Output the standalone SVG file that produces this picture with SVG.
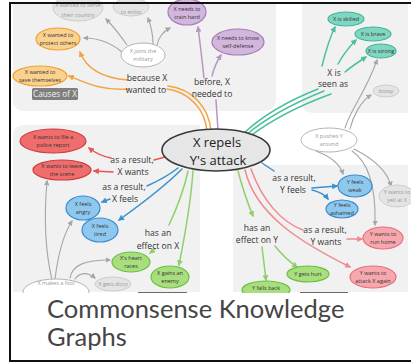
<svg xmlns="http://www.w3.org/2000/svg" width="411" height="362" viewBox="0 0 411 362">
  <defs>
    <style>
      .panel { fill: #f1f1f1; }
      .lbl { font-family: "Open Sans", "Liberation Sans", sans-serif; font-size: 8.6px; fill: #333; text-anchor: middle; }
      .nt { font-family: "Open Sans", "Liberation Sans", sans-serif; font-size: 5.5px; fill: #333; text-anchor: middle; }
      .nt.dim { fill: #9a9a9a; }
      .c { fill: none; stroke-width: 1.5; stroke-linecap: round; }
      .c.thin { stroke-width: 1.1; }
      .orange { stroke: #f2a444; }
      .purple { stroke: #b795c6; }
      .teal { stroke: #4cbf9f; }
      .gray { stroke: #a6a6a6; }
      .blue { stroke: #3a92cf; }
      .red { stroke: #e45555; }
      .pink { stroke: #ef8a8f; }
      .green { stroke: #8fd06a; }
      .n-orange { fill: #fbd18f; stroke: #f0a030; stroke-width: 1.2; }
      .n-purple { fill: #d3b6dd; stroke: #a47db5; stroke-width: 1.2; }
      .n-teal { fill: #80d7c1; stroke: #45b39a; stroke-width: 1.2; }
      .n-gray { fill: #e4e4e4; stroke: #cdcdcd; stroke-width: 1; }
      .n-white { fill: #ffffff; stroke: #b5b5b5; stroke-width: 1; }
      .n-blue { fill: #8fc8ef; stroke: #3c8ccc; stroke-width: 1.2; }
      .n-red { fill: #ef6d6d; stroke: #cc3d3d; stroke-width: 1.2; }
      .n-pink { fill: #f7a7ae; stroke: #e6707b; stroke-width: 1.2; }
      .n-green { fill: #a8de7e; stroke: #6cbf45; stroke-width: 1.2; }
      .title { font-family: Lato, "Open Sans", sans-serif; font-size: 25.5px; fill: #454545; }
    </style>
    <marker id="a-orange" viewBox="0 0 10 10" refX="8" refY="5" markerWidth="4" markerHeight="4" orient="auto"><path d="M0,0 L10,5 L0,10 z" fill="#f2a444"/></marker>
    <marker id="a-purple" viewBox="0 0 10 10" refX="8" refY="5" markerWidth="4" markerHeight="4" orient="auto"><path d="M0,0 L10,5 L0,10 z" fill="#b795c6"/></marker>
    <marker id="a-teal" viewBox="0 0 10 10" refX="8" refY="5" markerWidth="4" markerHeight="4" orient="auto"><path d="M0,0 L10,5 L0,10 z" fill="#4cbf9f"/></marker>
    <marker id="a-gray" viewBox="0 0 10 10" refX="8" refY="5" markerWidth="5" markerHeight="5" orient="auto"><path d="M0,0 L10,5 L0,10 z" fill="#a6a6a6"/></marker>
    <marker id="a-blue" viewBox="0 0 10 10" refX="8" refY="5" markerWidth="4" markerHeight="4" orient="auto"><path d="M0,0 L10,5 L0,10 z" fill="#3a92cf"/></marker>
    <marker id="a-red" viewBox="0 0 10 10" refX="8" refY="5" markerWidth="4" markerHeight="4" orient="auto"><path d="M0,0 L10,5 L0,10 z" fill="#e45555"/></marker>
    <marker id="a-pink" viewBox="0 0 10 10" refX="8" refY="5" markerWidth="4" markerHeight="4" orient="auto"><path d="M0,0 L10,5 L0,10 z" fill="#ef8a8f"/></marker>
    <marker id="a-green" viewBox="0 0 10 10" refX="8" refY="5" markerWidth="4" markerHeight="4" orient="auto"><path d="M0,0 L10,5 L0,10 z" fill="#8fd06a"/></marker>
  </defs>

  <!-- page -->
  <rect x="0" y="0" width="411" height="362" fill="#ffffff"/>

  <!-- background panels -->
  <g id="panels">
    <path class="panel" d="M13,4 H276 V98 Q276,111 263,111 H25 Q13,111 13,99 Z"/>
    <path class="panel" d="M302,4 H408 V113 H314 Q302,113 302,101 Z"/>
    <path class="panel" d="M25,125 H200 V292 H13 V137 Q13,125 25,125 Z"/>
    <path class="panel" d="M245,165 H408 V292 H233 V177 Q233,165 245,165 Z"/>
  </g>

  <!-- connectors -->
  <g id="connectors">
    <!-- causes: because X wanted to -->
    <path class="c orange" d="M207,131 C205,110 190,92 167,89"/>
    <path class="c orange" d="M211,131 C209,108 193,89 168,86"/>
    <path class="c orange" d="M128,80 C102,78 86,68 80,52" marker-end="url(#a-orange)"/>
    <path class="c orange" d="M128,89 C102,91 86,83 69,76" marker-end="url(#a-orange)"/>
    <!-- before, X needed to -->
    <path class="c purple" d="M218,130 L216,100"/>
    <path class="c purple" d="M204,78 C202,60 200,42 198,27" marker-end="url(#a-purple)"/>
    <path class="c purple" d="M212,76 C214,68 217,61 221,55" marker-end="url(#a-purple)"/>
    <!-- X joins the military -->
    <path class="c thin gray" d="M122,52 C110,42 96,38 84,38" marker-end="url(#a-gray)"/>
    <path class="c thin gray" d="M127,45 C120,35 113,26 106,19" marker-end="url(#a-gray)"/>
    <path class="c thin gray" d="M153,44 C153,35 151,26 148,18" marker-end="url(#a-gray)"/>
    <path class="c thin gray" d="M157,45 C159,36 164,31 170,28" marker-end="url(#a-gray)"/>
    <!-- X is seen as -->
    <path class="c teal" d="M243,134 C262,116 290,100 318,89"/>
    <path class="c teal" d="M246,135 C266,118 294,103 324,91"/>
    <path class="c teal" d="M249,137 C270,121 298,106 331,94"/>
    <path class="c teal" d="M322,66 C326,50 330,37 335,27" marker-end="url(#a-teal)"/>
    <path class="c teal" d="M338,64 C343,55 350,46 356,40" marker-end="url(#a-teal)"/>
    <path class="c teal" d="M345,72 C352,66 360,61 366,57" marker-end="url(#a-teal)"/>
    <!-- X pushes Y around -->
    <path class="c thin gray" d="M345,128 C350,110 366,92 377,60" marker-end="url(#a-gray)"/>
    <path class="c thin gray" d="M350,129 C353,116 361,101 371,95" marker-end="url(#a-gray)"/>
    <path class="c thin gray" d="M316,151 C332,157 340,164 343,174" marker-end="url(#a-gray)"/>
    <path class="c thin gray" d="M352,151 C370,163 376,190 375,225" marker-end="url(#a-gray)"/>
    <path class="c thin gray" d="M354,149 C372,158 387,170 391,186" marker-end="url(#a-gray)"/>
    <!-- as a result, Y feels -->
    <path class="c blue" d="M262,163 L274,171"/>
    <path class="c blue" d="M312,188 L337,186" marker-end="url(#a-blue)"/>
    <path class="c blue" d="M312,190 C320,192 325,195 328,199" marker-end="url(#a-blue)"/>
    <!-- as a result, Y wants -->
    <path class="c pink" d="M251,169 C262,200 281,222 303,230"/>
    <path class="c pink" d="M347,239 L362,239" marker-end="url(#a-pink)"/>
    <path class="c pink" d="M245,170 C256,215 300,242 350,267" marker-end="url(#a-pink)"/>
    <!-- has an effect on Y -->
    <path class="c green" d="M238,171 C243,190 248,204 253,216" marker-end="url(#a-green)"/>
    <path class="c green" d="M262,247 L266,280" marker-end="url(#a-green)"/>
    <path class="c green" d="M275,246 C282,255 290,262 297,267" marker-end="url(#a-green)"/>
    <!-- as a result, X wants -->
    <path class="c red" d="M165,157 L154,160"/>
    <path class="c red" d="M111,158 C101,156 94,152 89,148" marker-end="url(#a-red)"/>
    <path class="c red" d="M113,172 L94,171" marker-end="url(#a-red)"/>
    <!-- as a result, X feels -->
    <path class="c blue" d="M178,168 C168,176 158,181 147,186"/>
    <path class="c blue" d="M182,169 C165,186 140,205 119,220" marker-end="url(#a-blue)"/>
    <path class="c blue" d="M110,199 L102,202" marker-end="url(#a-blue)"/>
    <!-- has an effect on X -->
    <path class="c green" d="M188,171 C184,190 176,210 169,225"/>
    <path class="c green" d="M155,249 L150,253" marker-end="url(#a-green)"/>
    <path class="c green" d="M193,171 C191,200 185,235 179,265" marker-end="url(#a-green)"/>
    <!-- X makes a fool -->
    <path class="c thin gray" d="M52,280 C45,250 44,215 47,181" marker-end="url(#a-gray)"/>
    <path class="c thin gray" d="M55,279 C58,255 63,235 72,221" marker-end="url(#a-gray)"/>
    <path class="c thin gray" d="M70,278 C72,265 85,260 110,260" marker-end="url(#a-gray)"/>
    <path class="c thin gray" d="M75,279 C80,272 88,272 95,278" marker-end="url(#a-gray)"/>
  </g>

  <!-- causes panel -->
  <g id="n-serve"><ellipse class="n-gray" cx="78" cy="8" rx="25" ry="13"/><text class="nt dim" x="78" y="7">X wanted to serve</text><text class="nt dim" x="78" y="17">their country</text></g>
  <g id="n-enlist"><ellipse class="n-gray" cx="131" cy="7" rx="18" ry="9"/><text class="nt dim" x="131" y="14">to enlist</text></g>
  <g id="n-train"><ellipse class="n-purple" cx="187" cy="12" rx="19" ry="13"/><text class="nt" x="187" y="11">X needs to</text><text class="nt" x="187" y="19">train hard</text></g>
  <g id="n-selfdef"><ellipse class="n-purple" cx="238" cy="42" rx="26" ry="13"/><text class="nt" x="238" y="40">X needs to know</text><text class="nt" x="238" y="48">self-defense</text></g>
  <g id="n-protect"><ellipse class="n-orange" cx="58" cy="39" rx="22" ry="11"/><text class="nt" x="58" y="37">X wanted to</text><text class="nt" x="58" y="45">protect others</text></g>
  <g id="n-save"><ellipse class="n-orange" cx="40" cy="76" rx="27" ry="10"/><text class="nt" x="40" y="74">X wanted to</text><text class="nt" x="40" y="82">save themselves</text></g>
  <g id="n-military"><ellipse class="n-white" cx="143" cy="55" rx="22" ry="12"/><text class="nt dim" x="143" y="53">X joins the</text><text class="nt dim" x="143" y="61">military</text></g>
  <g id="l-because"><text class="lbl" x="147" y="81">because X</text><text class="lbl" x="146" y="93">wanted to</text></g>
  <g id="l-before"><text class="lbl" x="212" y="85">before, X</text><text class="lbl" x="212" y="97">needed to</text></g>
  <g id="tag-causes"><rect x="32" y="88" width="46" height="12" rx="1.5" fill="#7f7f7f"/><text x="55" y="97" font-family="Open Sans, Liberation Sans, sans-serif" font-size="8.2" fill="#f2f2f2" text-anchor="middle">Causes of X</text></g>

  <!-- seen-as panel -->
  <g id="n-skilled"><ellipse class="n-teal" cx="346" cy="19" rx="18" ry="7"/><text class="nt" x="346" y="21">X is skilled</text></g>
  <g id="n-brave"><ellipse class="n-teal" cx="373" cy="34" rx="18" ry="7"/><text class="nt" x="373" y="36">X is brave</text></g>
  <g id="n-strong"><ellipse class="n-teal" cx="381" cy="51" rx="15" ry="7"/><text class="nt" x="381" y="53">X is strong</text></g>
  <g id="n-bossy"><ellipse class="n-gray" cx="386" cy="91" rx="13" ry="6"/><text class="nt dim" x="386" y="93">bossy</text></g>
  <g id="l-seen"><text class="lbl" x="334" y="76">X is</text><text class="lbl" x="333" y="87">seen as</text></g>
  <g id="n-pushes"><ellipse class="n-white" cx="329" cy="140" rx="28" ry="12"/><text class="nt dim" x="329" y="138">X pushes Y</text><text class="nt dim" x="329" y="146">around</text></g>

  <!-- effects on Y panel -->
  <g id="n-weak"><ellipse class="n-blue" cx="355" cy="186" rx="17" ry="11"/><text class="nt" x="355" y="184">Y feels</text><text class="nt" x="355" y="192">weak</text></g>
  <g id="n-ashamed"><ellipse class="n-blue" cx="342" cy="209" rx="16" ry="9"/><text class="nt" x="342" y="207">Y feels</text><text class="nt" x="342" y="215">ashamed</text></g>
  <g id="n-yell"><ellipse class="n-gray" cx="397" cy="196" rx="18" ry="11"/><text class="nt dim" x="397" y="194">Y wants to</text><text class="nt dim" x="397" y="202">yell at X</text></g>
  <g id="n-runhome"><ellipse class="n-pink" cx="383" cy="238" rx="20" ry="11"/><text class="nt" x="383" y="236">Y wants to</text><text class="nt" x="383" y="244">run home</text></g>
  <g id="n-attack"><ellipse class="n-pink" cx="373" cy="277" rx="23" ry="11"/><text class="nt" x="373" y="275">Y wants to</text><text class="nt" x="373" y="283">attack X again</text></g>
  <g id="n-hurt"><ellipse class="n-green" cx="308" cy="274" rx="21" ry="8"/><text class="nt" x="308" y="276">Y gets hurt</text></g>
  <g id="n-fallsback"><ellipse class="n-green" cx="266" cy="290" rx="24" ry="9"/><text class="nt" x="266" y="290">Y falls back</text></g>
  <g id="l-yfeels"><text class="lbl" x="294" y="181">as a result,</text><text class="lbl" x="293" y="193">Y feels</text></g>
  <g id="l-ywants"><text class="lbl" x="325" y="233">as a result,</text><text class="lbl" x="326" y="245">Y wants</text></g>
  <g id="l-effy"><text class="lbl" x="257" y="231">has an</text><text class="lbl" x="257" y="243">effect on Y</text></g>

  <!-- effects on X panel -->
  <g id="n-police"><ellipse class="n-red" cx="53" cy="141" rx="33" ry="12"/><text class="nt" x="53" y="139">X wants to file a</text><text class="nt" x="53" y="147">police report</text></g>
  <g id="n-leave"><ellipse class="n-red" cx="62" cy="170" rx="29" ry="10"/><text class="nt" x="62" y="168">X wants to leave</text><text class="nt" x="62" y="176">the scene</text></g>
  <g id="n-angry"><ellipse class="n-blue" cx="83" cy="208" rx="17" ry="12"/><text class="nt" x="83" y="206">X feels</text><text class="nt" x="83" y="214">angry</text></g>
  <g id="n-tired"><ellipse class="n-blue" cx="100" cy="230" rx="18" ry="12"/><text class="nt" x="100" y="228">X feels</text><text class="nt" x="100" y="236">tired</text></g>
  <g id="n-heart"><ellipse class="n-green" cx="131" cy="262" rx="19" ry="10"/><text class="nt" x="131" y="260">X's heart</text><text class="nt" x="131" y="268">races</text></g>
  <g id="n-enemy"><ellipse class="n-green" cx="170" cy="277" rx="19" ry="11"/><text class="nt" x="170" y="275">X gains an</text><text class="nt" x="170" y="283">enemy</text></g>
  <g id="n-dizzy"><ellipse class="n-gray" cx="113" cy="284" rx="18" ry="7"/><text class="nt dim" x="113" y="286">X gets dizzy</text></g>
  <g id="n-fool"><ellipse class="n-white" cx="56" cy="292" rx="33" ry="13"/><text class="nt dim" x="56" y="285">X makes a fool</text></g>
  <g id="l-xwants"><text class="lbl" x="132" y="163">as a result,</text><text class="lbl" x="133" y="175">X wants</text></g>
  <g id="l-xfeels"><text class="lbl" x="124" y="190">as a result,</text><text class="lbl" x="125" y="202">X feels</text></g>
  <g id="l-effx"><text class="lbl" x="158" y="236">has an</text><text class="lbl" x="158" y="249">effect on X</text></g>

  <!-- central event -->
  <g id="n-event">
    <ellipse cx="216" cy="150" rx="54" ry="21" fill="#e6e6e6" stroke="#3a3a3a" stroke-width="1.6"/>
    <text x="217" y="147" font-family="Open Sans, Liberation Sans, sans-serif" font-size="13" fill="#222" text-anchor="middle">X repels</text>
    <text x="218" y="165" font-family="Open Sans, Liberation Sans, sans-serif" font-size="13" fill="#222" text-anchor="middle">Y's attack</text>
  </g>

  <!-- title band -->
  <g id="title">
    <rect x="11" y="293" width="400" height="67" fill="#ffffff"/>
    <line x1="138" y1="292.5" x2="187" y2="292.5" stroke="#6a6a6a" stroke-width="1.2"/>
    <line x1="300" y1="292.5" x2="348" y2="292.5" stroke="#6a6a6a" stroke-width="1.2"/>
    <text class="title" x="47" y="318">Commonsense Knowledge</text>
    <text class="title" x="47" y="346">Graphs</text>
  </g>

  <!-- frame -->
  <g id="frame" fill="#111">
    <rect x="9" y="2" width="402" height="2"/>
    <rect x="9" y="2" width="2" height="360"/>
    <rect x="9" y="360" width="402" height="2"/>
  </g>
</svg>
